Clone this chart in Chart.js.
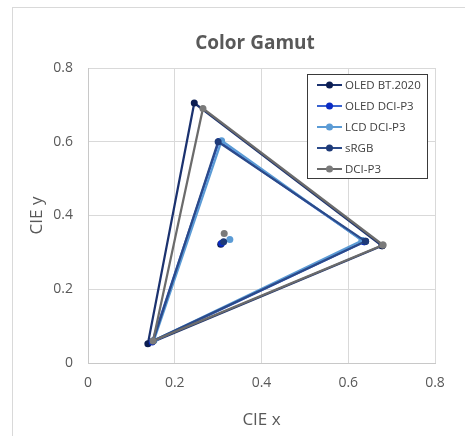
<!DOCTYPE html>
<html>
<head>
<meta charset="utf-8">
<script src="https://cdn.jsdelivr.net/npm/chart.js@4/dist/chart.umd.min.js"></script>
<style>
  body { margin: 0; background: #fff; }
  canvas { display: block; }
</style>
</head>
<body>
<canvas id="gamut" width="465" height="436"></canvas>
<script>
// values: R, G, B, R (closed triangle), gap, white point
var seriesNames = ['OLED BT.2020', 'OLED DCI-P3', 'LCD DCI-P3', 'sRGB', 'DCI-P3'];

var bt2020X = [0.678, 0.245, 0.138, 0.678, null, 0.306];
var bt2020Y = [0.318, 0.705, 0.052, 0.318, null, 0.322];

var oledP3X = [0.637, 0.302, 0.148, 0.637, null, 0.308];
var oledP3Y = [0.329, 0.601, 0.057, 0.329, null, 0.325];

var lcdP3X = [0.632, 0.308, 0.152, 0.632, null, 0.327];
var lcdP3Y = [0.332, 0.603, 0.061, 0.332, null, 0.335];

var srgbX = [0.64, 0.30, 0.15, 0.64, null, 0.3127];
var srgbY = [0.33, 0.60, 0.06, 0.33, null, 0.329];

var dciP3X = [0.68, 0.265, 0.15, 0.68, null, 0.314];
var dciP3Y = [0.32, 0.69, 0.06, 0.32, null, 0.351];

var xTicks = [0, 0.2, 0.4, 0.6, 0.8];
var yTicks = [0, 0.2, 0.4, 0.6, 0.8];

var lineColors = ['#1b326f', '#3a63cf', '#5b9bd5', '#2b4a8a', '#6b6b6b'];
var dotColors = ['#0b1d52', '#0a2bc4', '#5b9bd5', '#1e3a78', '#7a7a7a'];

var textGray = '#595959';

function toPoints(xs, ys) {
  var pts = [];
  for (var i = 0; i < xs.length; i++) {
    pts.push({ x: xs[i], y: ys[i] });
  }
  return pts;
}

var allX = [bt2020X, oledP3X, lcdP3X, srgbX, dciP3X];
var allY = [bt2020Y, oledP3Y, lcdP3Y, srgbY, dciP3Y];

var datasets = [];
for (var i = 0; i < seriesNames.length; i++) {
  datasets.push({
    label: seriesNames[i],
    data: toPoints(allX[i], allY[i]),
    showLine: true,
    spanGaps: false,
    borderColor: lineColors[i],
    borderWidth: 2.25,
    pointRadius: 3.5,
    pointBackgroundColor: dotColors[i],
    pointBorderColor: dotColors[i],
    pointBorderWidth: 0,
    order: seriesNames.length - i   // later series on top, like the original
  });
}

var decor = {
  id: 'decor',
  beforeDraw: function (chart) {
    var ctx = chart.ctx;
    ctx.save();
    ctx.fillStyle = '#fff';
    ctx.fillRect(0, 0, chart.width, chart.height);
    ctx.strokeStyle = '#d9d9d9';
    ctx.lineWidth = 1;
    ctx.strokeRect(12.5, 7.5, 480, 450);
    ctx.restore();
  },
  afterDraw: function (chart) {
    var ctx = chart.ctx;
    ctx.save();

    // title
    ctx.fillStyle = textGray;
    ctx.font = 'bold 19px "Open Sans"';
    ctx.textAlign = 'center';
    ctx.textBaseline = 'middle';
    ctx.fillText('Color Gamut', 255, 44);

    // legend box inside plot
    var bx = 307.5, by = 74.5, bw = 120, bh = 104;
    ctx.fillStyle = '#fff';
    ctx.fillRect(bx, by, bw, bh);
    ctx.strokeStyle = '#3a3a3a';
    ctx.lineWidth = 1;
    ctx.strokeRect(bx, by, bw, bh);

    ctx.font = '11.5px "Open Sans"';
    ctx.textAlign = 'left';
    ctx.textBaseline = 'middle';
    chart.data.datasets.forEach(function (ds, k) {
      var ry = 85 + k * 21;
      ctx.strokeStyle = ds.borderColor;
      ctx.lineWidth = 2;
      ctx.beginPath();
      ctx.moveTo(317, ry);
      ctx.lineTo(342, ry);
      ctx.stroke();
      ctx.fillStyle = ds.pointBackgroundColor;
      ctx.beginPath();
      ctx.arc(329.5, ry, 3.5, 0, Math.PI * 2);
      ctx.fill();
      ctx.fillStyle = '#404040';
      ctx.fillText(ds.label, 345, ry + 0.5);
    });
    ctx.restore();
  }
};

new Chart(document.getElementById('gamut'), {
  type: 'scatter',
  data: { datasets: datasets },
  options: {
    responsive: false,
    animation: false,
    layout: { padding: { left: 0, top: 68, right: 30, bottom: 0 } },
    plugins: {
      legend: { display: false },
      title: { display: false },
      tooltip: { enabled: false }
    },
    scales: {
      x: {
        type: 'linear',
        position: 'bottom',
        min: 0,
        max: 0.8,
        afterBuildTicks: function (s) {
          s.ticks = xTicks.map(function (v) { return { value: v }; });
        },
        afterFit: function (s) { s.height = 73; },
        grid: { color: '#d9d9d9', drawTicks: false },
        border: { color: '#c8c8c8' },
        ticks: { padding: 12, color: textGray, font: { family: 'Open Sans', size: 14 } },
        title: {
          display: true,
          text: 'CIE x',
          color: textGray,
          font: { family: 'Open Sans', size: 17 },
          padding: { top: 0, bottom: 6 }
        }
      },
      y: {
        type: 'linear',
        position: 'left',
        min: 0,
        max: 0.8,
        afterBuildTicks: function (s) {
          s.ticks = yTicks.map(function (v) { return { value: v }; });
        },
        afterFit: function (s) { s.width = 88; },
        grid: { color: '#d9d9d9', drawTicks: false },
        border: { color: '#c8c8c8' },
        ticks: { padding: 15, color: textGray, font: { family: 'Open Sans', size: 14 } },
        title: {
          display: true,
          text: 'CIE y',
          color: textGray,
          font: { family: 'Open Sans', size: 17 },
          padding: { top: 27, bottom: 0 }
        }
      }
    }
  },
  plugins: [decor]
});
</script>
</body>
</html>
